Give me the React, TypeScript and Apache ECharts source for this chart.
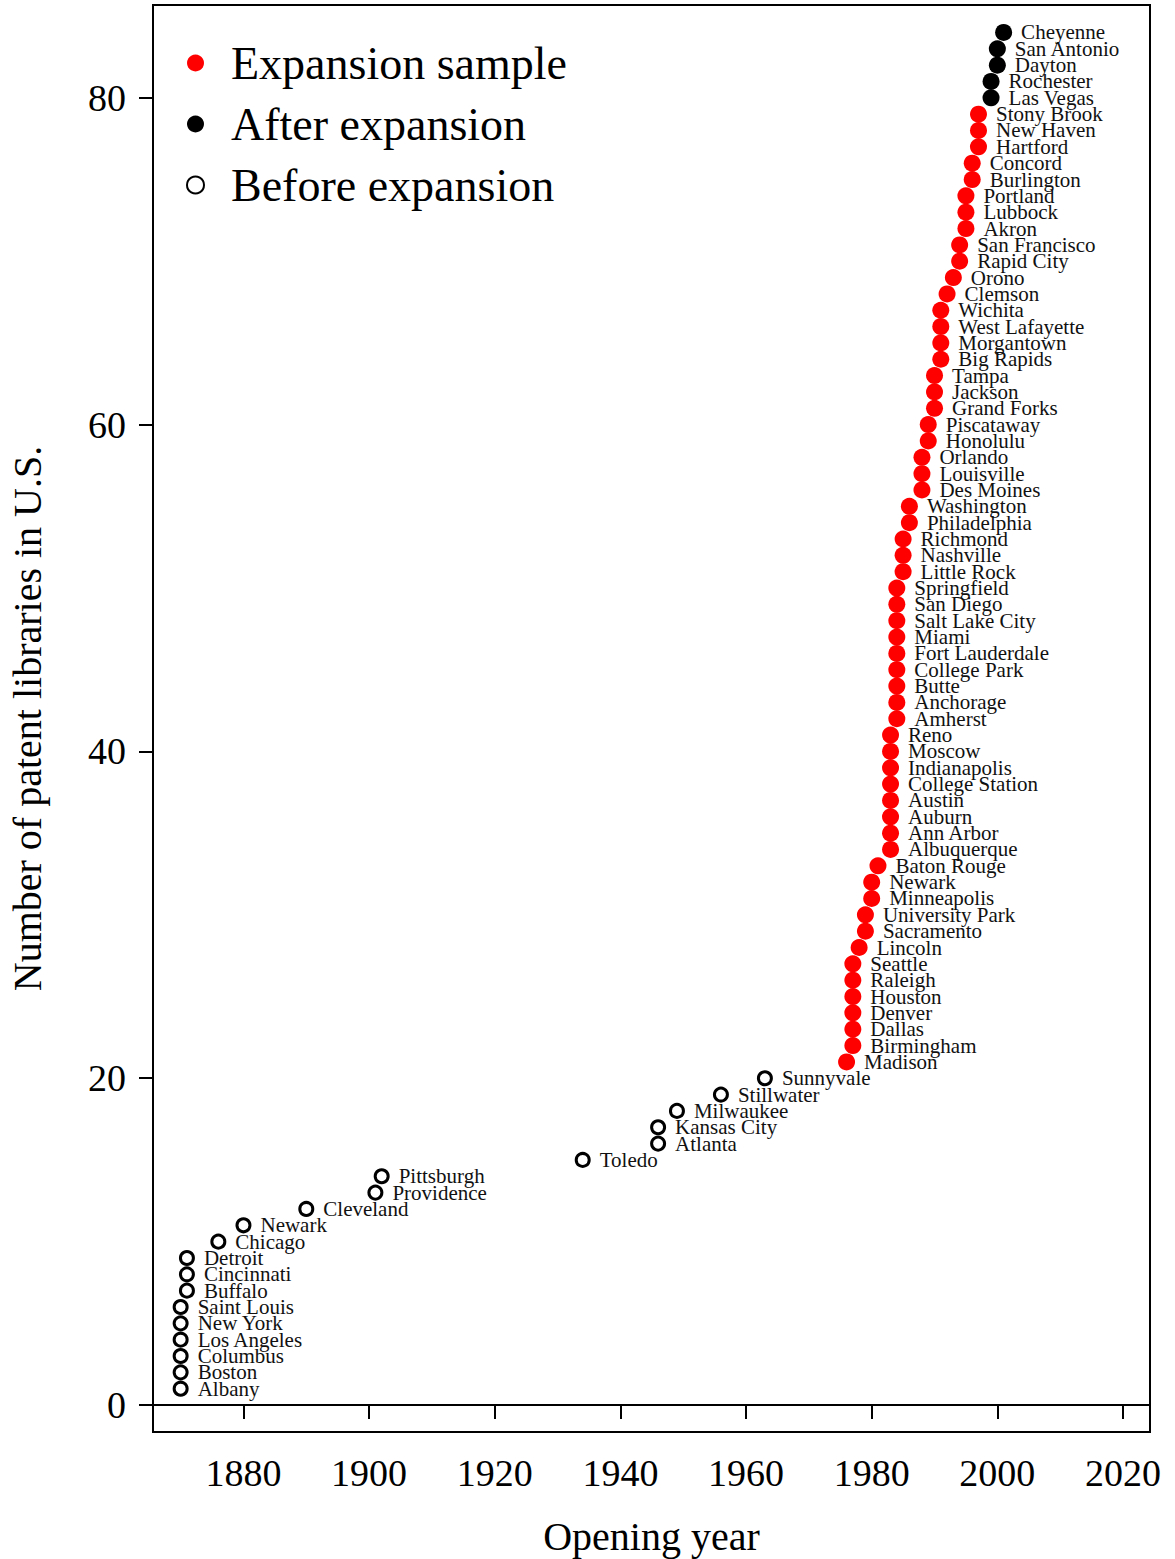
import React, { useEffect, useRef } from "react";
import * as echarts from "echarts";

const FONT = "'Liberation Serif', 'DejaVu Serif', serif";

// Before expansion (hollow)
const beforeNames = ["Albany", "Boston", "Columbus", "Los Angeles", "New York", "Saint Louis", "Buffalo", "Cincinnati", "Detroit", "Chicago", "Newark", "Cleveland", "Providence", "Pittsburgh", "Toledo", "Atlanta", "Kansas City", "Milwaukee", "Stillwater", "Sunnyvale"];
const beforeYears = [1870, 1870, 1870, 1870, 1870, 1870, 1871, 1871, 1871, 1876, 1880, 1890, 1901, 1902, 1934, 1946, 1946, 1949, 1956, 1963];
const beforeCounts = [1, 2, 3, 4, 5, 6, 7, 8, 9, 10, 11, 12, 13, 14, 15, 16, 17, 18, 19, 20];

// Expansion sample (red)
const expansionNames = ["Madison", "Birmingham", "Dallas", "Denver", "Houston", "Raleigh", "Seattle", "Lincoln", "Sacramento", "University Park", "Minneapolis", "Newark", "Baton Rouge", "Albuquerque", "Ann Arbor", "Auburn", "Austin", "College Station", "Indianapolis", "Moscow", "Reno", "Amherst", "Anchorage", "Butte", "College Park", "Fort Lauderdale", "Miami", "Salt Lake City", "San Diego", "Springfield", "Little Rock", "Nashville", "Richmond", "Philadelphia", "Washington", "Des Moines", "Louisville", "Orlando", "Honolulu", "Piscataway", "Grand Forks", "Jackson", "Tampa", "Big Rapids", "Morgantown", "West Lafayette", "Wichita", "Clemson", "Orono", "Rapid City", "San Francisco", "Akron", "Lubbock", "Portland", "Burlington", "Concord", "Hartford", "New Haven", "Stony Brook"];
const expansionYears = [1976, 1977, 1977, 1977, 1977, 1977, 1977, 1978, 1979, 1979, 1980, 1980, 1981, 1983, 1983, 1983, 1983, 1983, 1983, 1983, 1983, 1984, 1984, 1984, 1984, 1984, 1984, 1984, 1984, 1984, 1985, 1985, 1985, 1986, 1986, 1988, 1988, 1988, 1989, 1989, 1990, 1990, 1990, 1991, 1991, 1991, 1991, 1992, 1993, 1994, 1994, 1995, 1995, 1995, 1996, 1996, 1997, 1997, 1997];
const expansionCounts = [21, 22, 23, 24, 25, 26, 27, 28, 29, 30, 31, 32, 33, 34, 35, 36, 37, 38, 39, 40, 41, 42, 43, 44, 45, 46, 47, 48, 49, 50, 51, 52, 53, 54, 55, 56, 57, 58, 59, 60, 61, 62, 63, 64, 65, 66, 67, 68, 69, 70, 71, 72, 73, 74, 75, 76, 77, 78, 79];

// After expansion (black)
const afterNames = ["Las Vegas", "Rochester", "Dayton", "San Antonio", "Cheyenne"];
const afterYears = [1999, 1999, 2000, 2000, 2001];
const afterCounts = [80, 81, 82, 83, 84];

const xTicks = [1880, 1900, 1920, 1940, 1960, 1980, 2000, 2020];
const yTicks = [0, 20, 40, 60, 80];

function build(names: string[], years: number[], counts: number[]) {
  return names.map((n, i) => [years[i], counts[i], n]);
}

const labelStyle = {
  show: true,
  position: "right" as const,
  distance: 9,
  fontFamily: FONT,
  fontSize: 21,
  color: "#111",
  formatter: (p: any) => p.value[2],
};

export default function App() {
  const ref = useRef<HTMLDivElement>(null);
  useEffect(() => {
    if (!ref.current) return;
    const chart = echarts.init(ref.current, null, { renderer: "svg" });
    chart.setOption({
      animation: false,
      backgroundColor: "#fff",
      textStyle: { fontFamily: FONT },
      grid: {
        left: 153,
        right: 25,
        top: 5,
        bottom: 127,
        show: true,
        borderColor: "#000",
        borderWidth: 2,
        containLabel: false,
        outerBoundsMode: "none",
      },
      legend: {
        left: 181,
        top: 35,
        orient: "vertical",
        itemWidth: 17,
        itemHeight: 17,
        itemGap: 15,
        icon: "circle",
        textStyle: { fontFamily: FONT, fontSize: 46, color: "#000", padding: [0, 0, 0, 22] },
        data: ["Expansion sample", "After expansion", "Before expansion"],
      },
      xAxis: {
        type: "value",
        min: 1865.6,
        max: 2024.3,
        name: "Opening year",
        nameLocation: "middle",
        nameGap: 84,
        nameTextStyle: { fontFamily: FONT, fontSize: 40, color: "#000" },
        splitLine: { show: false },
        axisLine: { show: true, lineStyle: { color: "#000", width: 2 } },
        axisTick: { show: true, length: 14, lineStyle: { color: "#000", width: 2 }, customValues: xTicks },
        axisLabel: {
          fontFamily: FONT,
          fontSize: 38,
          color: "#000",
          margin: 22,
          customValues: xTicks,
          formatter: (v: number) => String(v),
        },
      },
      yAxis: {
        type: "value",
        min: -1.65,
        max: 85.68,
        name: "Number of patent libraries in U.S.",
        nameLocation: "middle",
        nameGap: 106,
        nameTextStyle: { fontFamily: FONT, fontSize: 40, color: "#000" },
        splitLine: { show: false },
        axisLine: { show: true, lineStyle: { color: "#000", width: 2 } },
        axisTick: { show: true, length: 14, lineStyle: { color: "#000", width: 2 }, customValues: yTicks },
        axisLabel: {
          fontFamily: FONT,
          fontSize: 38,
          color: "#000",
          margin: 27,
          customValues: yTicks,
          formatter: (v: number) => String(v),
        },
      },
      series: [
        {
          name: "Expansion sample",
          type: "scatter",
          symbol: "circle",
          symbolSize: 17,
          itemStyle: { color: "#ff0000", opacity: 1 },
          label: labelStyle,
          data: build(expansionNames, expansionYears, expansionCounts),
        },
        {
          name: "After expansion",
          type: "scatter",
          symbol: "circle",
          symbolSize: 17,
          itemStyle: { color: "#000", opacity: 1 },
          label: labelStyle,
          data: build(afterNames, afterYears, afterCounts),
        },
        {
          name: "Before expansion",
          type: "scatter",
          symbol: "circle",
          symbolSize: 13,
          itemStyle: { color: "#fff", borderColor: "#000", borderWidth: 3, opacity: 1 },
          label: labelStyle,
          data: build(beforeNames, beforeYears, beforeCounts),
        },
      ],
    });
    return () => chart.dispose();
  }, []);
  return (
    <div
      ref={ref}
      style={{ position: "fixed", left: 0, top: 0, width: 1175, height: 1559, background: "#fff" }}
    />
  );
}
